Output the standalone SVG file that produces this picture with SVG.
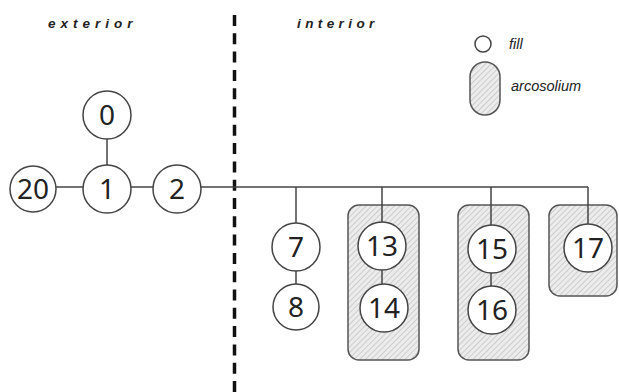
<svg xmlns="http://www.w3.org/2000/svg" width="619" height="392" viewBox="0 0 619 392">
  <defs>
    <pattern id="hatch" patternUnits="userSpaceOnUse" width="4" height="4" patternTransform="rotate(45)">
      <rect width="4" height="4" fill="#ececec"/>
      <line x1="0" y1="0" x2="0" y2="4" stroke="#b8b8b8" stroke-width="1.2"/>
    </pattern>
  </defs>
  <style>
    .node circle { fill: #fff; stroke: #444; stroke-width: 1.5; }
    .node text { font-family: "Noto Sans", "DejaVu Sans", sans-serif; font-size: 28px; fill: #222; text-anchor: middle; }
    .arco { fill: url(#hatch); stroke: #555; stroke-width: 1.5; }
    .edge { stroke: #444; stroke-width: 1.5; fill: none; }
    .zone { font-family: "Liberation Sans", Arial, sans-serif; font-style: italic; font-weight: bold; font-size: 13.5px; fill: #222; letter-spacing: 5px; }
    .legend { font-family: "Liberation Sans", Arial, sans-serif; font-style: italic; font-size: 14.5px; fill: #222; }
  </style>

  <rect width="619" height="392" fill="#fff"/>

  <!-- zone labels and boundary -->
  <text class="zone" x="48" y="28">exterior</text>
  <text class="zone" x="297" y="28" style="letter-spacing:4.4px">interior</text>
  <line x1="234.5" y1="15" x2="234.5" y2="392" stroke="#111" stroke-width="3.5" stroke-dasharray="11 7.3"/>

  <!-- legend -->
  <g id="legend">
    <circle cx="483" cy="44" r="8" fill="#fff" stroke="#444" stroke-width="1.5"/>
    <text class="legend" x="509" y="49">fill</text>
    <rect class="arco" x="470" y="62" width="30" height="53" rx="15"/>
    <text class="legend" x="511" y="91">arcosolium</text>
  </g>

  <!-- arcosolium boxes -->
  <g id="arco-13-14"><rect class="arco" x="348" y="205" width="71" height="155" rx="11"/></g>
  <g id="arco-15-16"><rect class="arco" x="458" y="205" width="71" height="155" rx="11"/></g>
  <g id="arco-17"><rect class="arco" x="549" y="205" width="68" height="91" rx="11"/></g>

  <!-- connectors -->
  <g id="edges">
    <line class="edge" x1="107" y1="139" x2="107" y2="165"/>
    <line class="edge" x1="56" y1="187" x2="83" y2="187"/>
    <line class="edge" x1="131" y1="187" x2="153" y2="187"/>
    <line class="edge" x1="201" y1="187" x2="588" y2="187"/>
    <line class="edge" x1="296" y1="187" x2="296" y2="223"/>
    <line class="edge" x1="296" y1="271" x2="296" y2="284"/>
    <line class="edge" x1="382" y1="187" x2="382" y2="222"/>
    <line class="edge" x1="382" y1="270" x2="382" y2="284"/>
    <line class="edge" x1="491" y1="187" x2="491" y2="225"/>
    <line class="edge" x1="491" y1="273" x2="491" y2="286"/>
    <line class="edge" x1="588" y1="187" x2="588" y2="224"/>
  </g>

  <!-- nodes -->
  <g id="n0" class="node"><circle cx="107" cy="115" r="24"/><text x="107" y="125">0</text></g>
  <g id="n1" class="node"><circle cx="107" cy="189" r="24"/><text x="107" y="199">1</text></g>
  <g id="n20" class="node"><circle cx="33" cy="189" r="23"/><text x="33" y="199">20</text></g>
  <g id="n2" class="node"><circle cx="177" cy="189" r="24"/><text x="177" y="199">2</text></g>
  <g id="n7" class="node"><circle cx="296" cy="247" r="24"/><text x="296" y="257">7</text></g>
  <g id="n8" class="node"><circle cx="296" cy="307" r="23"/><text x="296" y="317">8</text></g>
  <g id="n13" class="node"><circle cx="382" cy="246" r="24"/><text x="382" y="256">13</text></g>
  <g id="n14" class="node"><circle cx="384" cy="308" r="24"/><text x="384" y="318">14</text></g>
  <g id="n15" class="node"><circle cx="492" cy="249" r="24"/><text x="492" y="259">15</text></g>
  <g id="n16" class="node"><circle cx="492" cy="310" r="24"/><text x="492" y="320">16</text></g>
  <g id="n17" class="node"><circle cx="588" cy="248" r="24"/><text x="588" y="258">17</text></g>
</svg>
